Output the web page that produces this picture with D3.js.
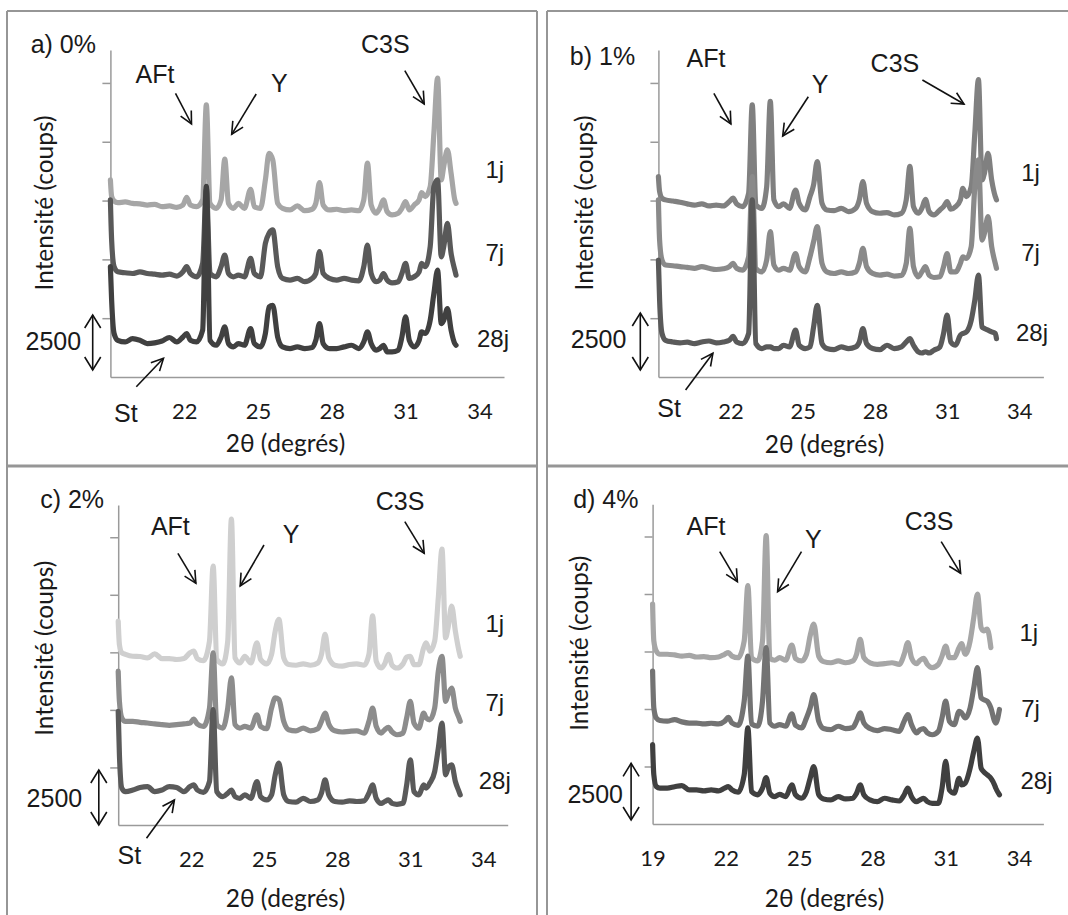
<!DOCTYPE html>
<html><head><meta charset="utf-8">
<script src="https://cdn.jsdelivr.net/npm/d3@7"></script>
<style>body{margin:0;background:#fff} svg{display:block}</style>
</head><body><svg id="c" width="1068" height="915"></svg>
<script>
// ---------- DATA ----------
const twoTheta = [19.0,19.05,19.15,19.3,19.6,19.9,20.2,20.5,20.8,21.1,21.4,21.7,21.95,22.1,22.25,22.5,22.75,22.9,23.05,23.3,23.5,23.65,23.8,24.0,24.2,24.45,24.7,24.85,25.1,25.3,25.45,25.6,25.8,26.0,26.3,26.6,26.9,27.2,27.35,27.5,27.65,27.9,28.2,28.5,28.8,29.1,29.3,29.45,29.6,29.8,29.95,30.1,30.25,30.45,30.7,30.85,31.0,31.15,31.35,31.55,31.65,31.8,32.0,32.15,32.3,32.45,32.55,32.7,32.85,33.0,33.05,33.2];
const ages = ["1j","7j","28j"];
const panelTitles = ["a) 0%","b) 1%","c) 2%","d) 4%"];
const xTickValues = [19,22,25,28,31,34];
const yTickValues = [2500,5000,7500,10000,12500];
const yMax = 13900;
const scaleBarLabel = "2500";
const phaseLabels = ["AFt","Y","C3S","St"];
const xTitle = "2θ (degrés)";
const yTitle = "Intensité (coups)";

// panel a) 0%
const a_1j = [8380,7670,7480,7410,7440,7380,7360,7310,7340,7240,7270,7210,7310,7640,7310,7240,7530,11570,7380,7170,7530,9260,7380,7170,7380,7170,7980,7240,7170,8380,9510,9230,7380,7170,7100,7270,7070,7130,7380,8260,7310,7100,7130,7070,7100,7070,7530,9090,7310,6960,7170,7530,7030,6890,6960,7170,7460,7100,7310,7530,7840,7670,8090,10370,12710,8380,8950,9660,8660,7530,7380,null];
const a_7j = [7530,5820,4690,4470,4430,4400,4470,4400,4370,4330,4370,4290,4470,4690,4400,4260,4830,8000,4400,4260,4690,5180,4400,4260,4330,4260,5040,4400,4260,5680,6110,6250,4690,4190,4120,4190,4050,4190,4400,5330,4400,4190,4120,4190,4120,4090,4690,5610,4400,4050,4120,4400,4120,4000,4050,4400,4830,4190,4260,4470,4830,4690,5540,8090,8380,5110,5540,6530,5250,4540,4330,null];
const a_28j = [4690,3270,1850,1560,1490,1630,1560,1420,1450,1530,1680,1490,1700,1850,1560,1490,1990,8100,1560,1350,1700,2130,1420,1280,1420,1350,2060,1420,1280,1850,2980,3050,1700,1280,1210,1280,1210,1250,1560,2270,1420,1210,1210,1280,1350,1210,1490,1920,1420,1140,1210,1350,1070,1070,1140,1700,2560,1560,1280,1560,1920,1850,2410,3550,4540,2270,2410,2910,1990,1420,1350,null];
// panel b) 1%
const b_1j = [8520,7880,7600,7530,7480,7430,7360,7310,7360,7270,7310,7270,7460,7600,7360,7240,7810,11570,7310,7170,8090,11720,7530,7240,7360,7170,7950,7380,7100,7670,8170,9160,7380,7100,7070,7170,7030,7170,7530,8310,7380,7030,6960,6990,6890,6960,7530,8950,7240,6960,7170,7550,7030,6890,7100,7240,7460,7130,7240,7530,8020,7670,8090,10370,12640,8380,8660,9510,8380,7670,7530,null];
const b_7j = [7530,5820,4970,4760,4730,4690,4660,4620,4690,4620,4570,4600,4690,4830,4620,4540,5110,8520,4620,4470,4970,6180,4760,4540,4620,4540,5250,4690,4470,5110,5750,6390,4830,4470,4400,4470,4400,4470,4830,5470,4690,4400,4330,4370,4290,4320,4830,6320,4690,4260,4470,4690,4330,4230,4260,4690,5250,4470,4470,4830,5110,5040,5540,8090,9230,5820,6110,6820,5540,4830,4620,null];
const b_28j = [4970,3270,1850,1560,1490,1450,1480,1420,1490,1530,1450,1490,1560,1730,1490,1420,1850,7530,1420,1210,1280,1280,1210,1210,1350,1280,1990,1350,1210,1280,2130,3050,1420,1210,1160,1280,1210,1280,1490,2060,1420,1210,1160,1350,1210,1280,1490,1630,1350,1070,1020,1070,1020,1140,1280,1850,2630,1490,1350,1780,1850,1920,2410,3270,4330,2130,2060,1990,1920,1850,1630,null];
// panel c) 2%
const c_1j = [8860,7840,7480,7410,7330,7320,7260,7430,7230,7230,7190,7230,7480,7550,7230,7140,7990,11250,7190,7000,7990,13290,7260,7040,7330,7040,7910,7190,7000,7410,8420,8930,7260,6970,6940,7000,6940,7040,7410,8280,7260,6940,6900,6970,7000,6940,7410,9080,7110,6820,7000,7410,6940,6820,7000,7290,7330,6970,6970,7700,7910,7550,7990,9870,11980,8130,8570,9510,8420,7550,7330,null];
const c_7j = [6680,5370,4650,4500,4500,4460,4430,4390,4360,4330,4360,4390,4430,4600,4390,4280,5080,7480,4360,4210,5080,6390,4360,4210,4280,4210,4790,4280,4180,5080,5520,5450,4500,4140,4090,4210,4090,4180,4500,4860,4390,4090,4040,4070,4090,3990,4500,5080,4280,3990,4140,4240,4040,3920,3990,4650,5370,4430,4210,4860,4650,4570,5080,6680,7330,5370,5660,5950,5080,4650,4500,null];
const c_28j = [4940,3050,1600,1450,1520,1630,1670,1450,1520,1670,1630,1450,1670,1740,1520,1420,1890,5010,1450,1230,1380,1520,1230,1160,1310,1160,1890,1230,1090,1310,2180,2690,1310,1020,990,1160,1020,1090,1380,1960,1310,1020,990,1050,1020,1050,1380,1740,1160,940,1020,1090,940,900,940,1740,2830,1450,1310,1740,1600,1820,2320,3340,4430,2180,2470,2610,1890,1450,1310,null];
// panel d) 4%
const d_1j = [9560,7960,7520,7380,7380,7350,7300,7330,7260,7280,7230,7260,7380,7450,7300,7230,7960,10360,7230,7090,7960,12540,7200,7120,7230,7120,7780,7200,7090,7380,8180,8690,7300,7060,7010,7090,7010,7090,7380,8030,7230,7010,6940,6970,7010,6940,7380,7890,7230,6970,7120,7200,6940,6800,6940,7300,7740,7230,7230,7670,7840,7380,7960,8980,10000,8540,8400,8470,7670,null,null,null];
const d_7j = [6650,5050,4610,4500,4470,4540,4440,4390,4390,4350,4380,4350,4470,4640,4390,4290,5340,7300,4350,4250,5340,7670,4390,4250,4320,4250,4790,4290,4180,4610,5050,5630,4470,4150,4100,4250,4150,4200,4470,4830,4390,4150,4060,4150,4100,4030,4470,4760,4320,3960,4100,4150,3960,3880,4030,4610,5340,4470,4320,4900,4830,4610,5050,5920,6800,5490,5410,5340,5050,4470,4390,4980];
const d_28j = [3450,2140,1630,1560,1560,1620,1670,1480,1480,1440,1480,1440,1560,1630,1480,1380,2140,4180,1410,1270,1560,2020,1340,1190,1290,1190,1700,1270,1120,1410,1990,2500,1270,1090,1050,1190,1090,1120,1340,1700,1270,1050,970,1120,1050,1000,1270,1560,1190,970,1050,1120,970,900,900,1560,2720,1480,1340,1990,1700,1780,2430,3160,3740,2430,2280,2140,1990,1700,1560,1270];

// ---------- LAYOUT ----------
const ARIAL = "'Liberation Sans', Arial, sans-serif";
const CALIB = "Lato, 'Open Sans', sans-serif";
const panels = [
 {title:panelTitles[0], series:[a_1j,a_7j,a_28j], colors:["#a6a6a6","#595959","#404040"],
  x0:110.4, x1:504, yb:377, yt:50, showFirstTick:false,
  t:[30.7,53.3], yl:[43.3,203], xl:[285.5,452],
  ann:[[0,135.6,83,175.5,93.3,191.5,124],[1,270.9,91.7,256.2,94,231.7,134.3],[2,361,53.3,404.8,70.7,424.2,104],[3,114,421.7,136.3,386.7,163.5,358.3]],
  bar:[25.5,350,92.7,315,370], lab:[[485.5,178],[485.5,261],[477,347]]},
 {title:panelTitles[1], series:[b_1j,b_7j,b_28j], colors:["#808080","#8a8a8a","#5a5a5a"],
  x0:658.4, x1:1043.4, yb:377, yt:50, showFirstTick:false,
  t:[569.8,65], yl:[583.4,203], xl:[824.6,453.3],
  ann:[[0,686.6,66.7,713.9,93.3,730.9,124],[1,811.7,93.3,808.3,96.7,782.7,136],[2,870.6,71.7,922.4,80,964,104],[3,657.3,416.7,685.6,390,712.9,353.3]],
  bar:[570.8,348.3,640.3,313,370], lab:[[1021.2,180.7],[1021.2,260.7],[1016,340.7]]},
 {title:panelTitles[2], series:[c_1j,c_7j,c_28j], colors:["#cfcfcf","#8c8c8c","#5a5a5a"],
  x0:118.2, x1:507.7, yb:825, yt:505, showFirstTick:false,
  t:[40.2,508.3], yl:[43.3,648.3], xl:[285.5,906.7],
  ann:[[0,150.9,535,177.9,553.3,195.9,583.3],[1,282.8,543.3,264,545,240.2,586],[2,375.8,510,404.8,521.7,424.2,553.3],[3,117.5,864.3,146.5,838.3,174.4,800]],
  bar:[26.6,806.7,98.8,770,825], lab:[[485.5,632.3],[485.5,710.7],[478.7,789]]},
 {title:panelTitles[3], series:[d_1j,d_7j,d_28j], colors:["#a6a6a6","#737373","#404040"],
  x0:652.6, x1:1043.4, yb:824, yt:504.3, showFirstTick:true,
  t:[573.2,508.3], yl:[578.3,643.3], xl:[824.6,906.7],
  ann:[[0,686.6,535,719.7,551.7,737.4,581.7],[1,804.9,548.3,801.5,551.7,777.6,591.7],[2,904.7,530,941.2,541.7,960.6,573.3]],
  bar:[567.4,803.3,631.1,763.3,820], lab:[[1019.5,640.7],[1021.2,717.3],[1020.5,789]]}
];

const svg = d3.select("#c");

// frame lines
const frame = svg.append("g").attr("stroke","#969696").attr("fill","none");
[[7,11,537,11,2],[547,11,1068,11,2],[7,11,7,915,2],[537,11,537,915,2],[547,11,547,915,2],[7,466,537,466,3],[547,466,1068,466,3]]
 .forEach(([xa,ya,xb,yb,w])=>frame.append("line").attr("x1",xa).attr("y1",ya).attr("x2",xb).attr("y2",yb).attr("stroke-width",w));

function arrowHead(g, x1,y1,x2,y2, len=12, half=6){
  const ang = Math.atan2(y2-y1,x2-x1);
  const bx = x2 - len*Math.cos(ang), by = y2 - len*Math.sin(ang);
  const px = -Math.sin(ang)*half, py = Math.cos(ang)*half;
  g.append("path").attr("d",`M${bx+px},${by+py}L${x2},${y2}L${bx-px},${by-py}`)
   .attr("fill","none").attr("stroke","#111").attr("stroke-width",1.6).attr("stroke-linejoin","miter");
}
function arrow(g,x1,y1,x2,y2){
  g.append("line").attr("x1",x1).attr("y1",y1).attr("x2",x2).attr("y2",y2).attr("stroke","#111").attr("stroke-width",1.6);
  arrowHead(g,x1,y1,x2,y2);
}

panels.forEach(p=>{
  const g = svg.append("g");
  const x = d3.scaleLinear().domain([19,35]).range([p.x0,p.x1]);
  const y = d3.scaleLinear().domain([0,yMax]).range([p.yb,p.yt]);

  // y axis (no labels)
  const ya = g.append("g").attr("transform",`translate(${p.x0},0)`)
    .call(d3.axisLeft(y).tickValues(yTickValues).tickSize(8).tickSizeOuter(0).tickFormat(""));
  ya.selectAll("path,line").attr("stroke","#9a9a9a").attr("stroke-width",1.5);

  // x axis
  const xa = g.append("g").attr("transform",`translate(0,${p.yb})`)
    .call(d3.axisBottom(x).tickValues(p.showFirstTick?xTickValues:xTickValues.slice(1)).tickSize(0).tickSizeOuter(0).tickPadding(26).tickFormat(d3.format("d")));
  xa.select(".domain").attr("stroke","#9a9a9a").attr("stroke-width",1.5);
  xa.selectAll("text").attr("font-family",CALIB).attr("font-size",22).attr("fill","#1a1a1a");

  // series
  const line = d3.line().defined(d=>d[1]!=null).x(d=>x(d[0])).y(d=>y(d[1])).curve(d3.curveMonotoneX);
  p.series.forEach((vals,i)=>{
    const pts = twoTheta.map((t,k)=>[t,vals[k]]);
    g.append("path").datum(pts).attr("d",line).attr("fill","none")
     .attr("stroke",p.colors[i]).attr("stroke-width",5.2).attr("stroke-linejoin","round").attr("stroke-linecap","round");
  });

  // texts
  g.append("text").attr("x",p.t[0]).attr("y",p.t[1]).text(p.title).attr("font-family",ARIAL).attr("font-size",25).attr("fill","#1a1a1a");
  g.append("text").attr("transform",`translate(${p.yl[0]},${p.yl[1]}) rotate(-90)`).attr("text-anchor","middle").attr("dominant-baseline","central")
    .text(yTitle).attr("font-family",CALIB).attr("font-size",24.5).attr("fill","#1a1a1a");
  g.append("text").attr("x",p.xl[0]).attr("y",p.xl[1]).attr("text-anchor","middle")
    .text(xTitle).attr("font-family",CALIB).attr("font-size",24.5).attr("fill","#1a1a1a");

  p.ann.forEach(([k,tx,ty,ax1,ay1,ax2,ay2])=>{
    g.append("text").attr("x",tx).attr("y",ty).text(phaseLabels[k]).attr("font-family",ARIAL).attr("font-size",25).attr("fill","#1a1a1a");
    arrow(g,ax1,ay1,ax2,ay2);
  });

  // scale bar
  const [bx,by,lx,ly1,ly2] = p.bar;
  g.append("text").attr("x",bx).attr("y",by).text(scaleBarLabel).attr("font-family",ARIAL).attr("font-size",25).attr("fill","#1a1a1a");
  g.append("line").attr("x1",lx).attr("x2",lx).attr("y1",ly1).attr("y2",ly2).attr("stroke","#111").attr("stroke-width",1.6);
  arrowHead(g,lx,ly2,lx,ly1,13,8);
  arrowHead(g,lx,ly1,lx,ly2,13,8);

  // series labels
  p.lab.forEach(([lx2,ly],i)=>{
    g.append("text").attr("x",lx2).attr("y",ly).text(ages[i]).attr("font-family",ARIAL).attr("font-size",24).attr("fill","#1a1a1a");
  });
});
</script></body></html>
